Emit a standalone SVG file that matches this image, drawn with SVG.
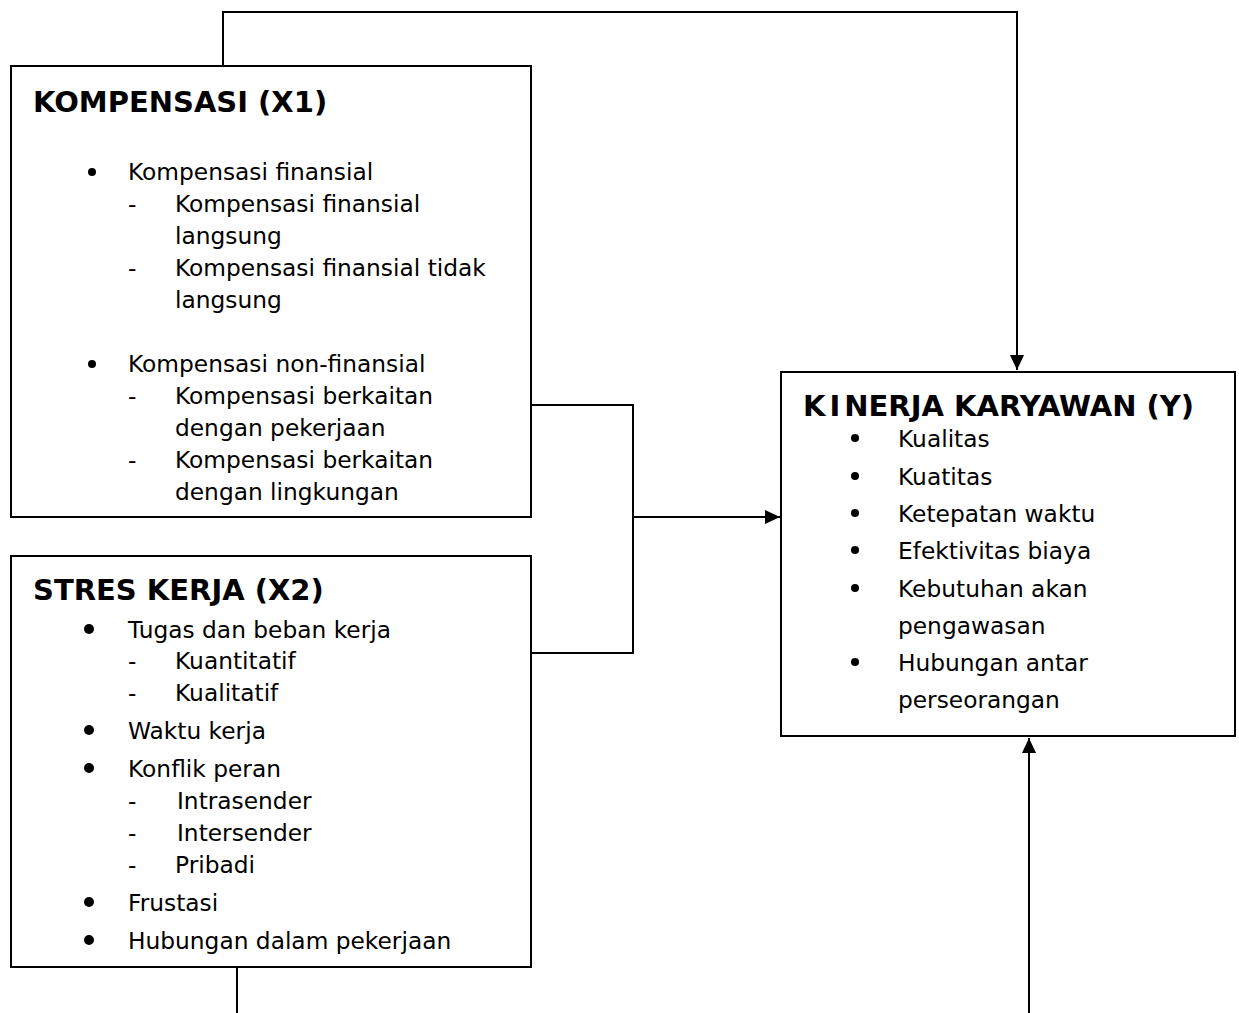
<svg xmlns="http://www.w3.org/2000/svg" width="1239" height="1013" viewBox="0 0 1239 1013">
<style>
.box{fill:#fff;stroke:#000;stroke-width:2}
.ln{fill:none;stroke:#000;stroke-width:2}
.t{font-family:"DejaVu Sans","Verdana",sans-serif;font-size:23.3px;fill:#000}
.h{font-family:"DejaVu Sans","Verdana",sans-serif;font-size:29px;font-weight:bold;fill:#000}
</style>
<defs>
<marker id="arr" markerUnits="userSpaceOnUse" markerWidth="16" markerHeight="14" refX="15" refY="7" orient="auto">
<path d="M0,0 L15,7 L0,14 Z" fill="#000"/>
</marker>
</defs>
<rect width="1239" height="1013" fill="#fff"/>
<g id="connectors">
<polyline class="ln" points="223,66 223,12 1017,12 1017,370" marker-end="url(#arr)"/>
<polyline class="ln" points="531,405 633,405 633,653 531,653"/>
<line class="ln" x1="633" y1="517" x2="780" y2="517" marker-end="url(#arr)"/>
<line class="ln" x1="237" y1="967" x2="237" y2="1013"/>
<line class="ln" x1="1029" y1="1013" x2="1029" y2="738" marker-end="url(#arr)"/>
</g>
<g id="kompensasi">
<rect class="box" x="11" y="66" width="520" height="451"/>
<text class="h" x="33" y="112">KOMPENSASI (X1)</text>
<circle cx="92" cy="172" r="4"/>
<text class="t" x="128" y="180">Kompensasi finansial</text>
<text class="t" x="128" y="212">-</text>
<text class="t" x="175" y="212">Kompensasi finansial</text>
<text class="t" x="175" y="244">langsung</text>
<text class="t" x="128" y="276">-</text>
<text class="t" x="175" y="276">Kompensasi finansial tidak</text>
<text class="t" x="175" y="308">langsung</text>
<circle cx="92" cy="364" r="4"/>
<text class="t" x="128" y="372">Kompensasi non-finansial</text>
<text class="t" x="128" y="404">-</text>
<text class="t" x="175" y="404">Kompensasi berkaitan</text>
<text class="t" x="175" y="436">dengan pekerjaan</text>
<text class="t" x="128" y="468">-</text>
<text class="t" x="175" y="468">Kompensasi berkaitan</text>
<text class="t" x="175" y="500">dengan lingkungan</text>
</g>
<g id="stres">
<rect class="box" x="11" y="556" width="520" height="411"/>
<text class="h" x="33" y="600">STRES KERJA (X2)</text>
<circle cx="89" cy="629" r="5"/>
<text class="t" x="128" y="638">Tugas dan beban kerja</text>
<text class="t" x="128" y="669">-</text>
<text class="t" x="175" y="669">Kuantitatif</text>
<text class="t" x="128" y="701">-</text>
<text class="t" x="175" y="701">Kualitatif</text>
<circle cx="89" cy="730" r="5"/>
<text class="t" x="128" y="739">Waktu kerja</text>
<circle cx="89" cy="768" r="5"/>
<text class="t" x="128" y="777">Konflik peran</text>
<text class="t" x="128" y="809">-</text>
<text class="t" x="177" y="809">Intrasender</text>
<text class="t" x="128" y="841">-</text>
<text class="t" x="177" y="841">Intersender</text>
<text class="t" x="128" y="873">-</text>
<text class="t" x="175" y="873">Pribadi</text>
<circle cx="89" cy="902" r="5"/>
<text class="t" x="128" y="911">Frustasi</text>
<circle cx="89" cy="940" r="5"/>
<text class="t" x="128" y="949">Hubungan dalam pekerjaan</text>
</g>
<g id="kinerja">
<rect class="box" x="781" y="372" width="454" height="364"/>
<text class="h" x="803" y="416">K<tspan dx="4">I</tspan><tspan dx="4">NERJA KARYAWAN (Y)</tspan></text>
<circle cx="855" cy="438" r="4"/>
<text class="t" x="898" y="447">Kualitas</text>
<circle cx="855" cy="476" r="4"/>
<text class="t" x="898" y="485">Kuatitas</text>
<circle cx="855" cy="513" r="4"/>
<text class="t" x="898" y="522">Ketepatan waktu</text>
<circle cx="855" cy="550" r="4"/>
<text class="t" x="898" y="559">Efektivitas biaya</text>
<circle cx="855" cy="588" r="4"/>
<text class="t" x="898" y="597">Kebutuhan akan</text>
<text class="t" x="898" y="634">pengawasan</text>
<circle cx="855" cy="662" r="4"/>
<text class="t" x="898" y="671">Hubungan antar</text>
<text class="t" x="898" y="708">perseorangan</text>
</g>
</svg>
